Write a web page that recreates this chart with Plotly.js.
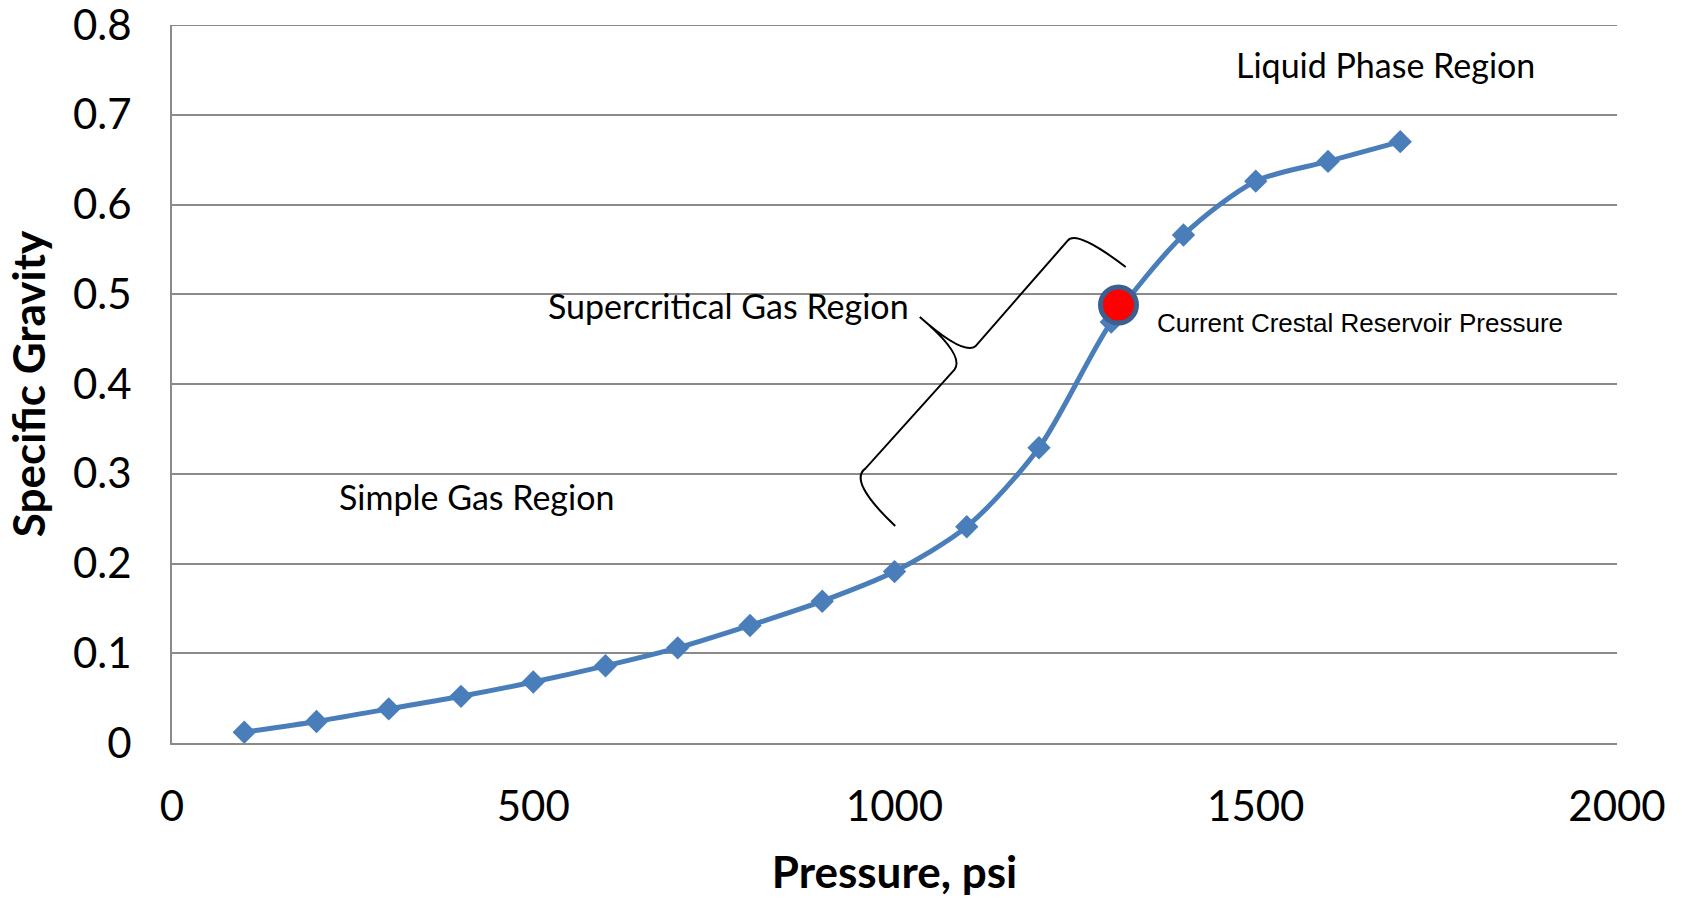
<!DOCTYPE html>
<html>
<head>
<meta charset="utf-8">
<script src="https://cdn.plot.ly/plotly-3.0.1.min.js"></script>
<style>html,body{margin:0;padding:0;background:#fff;}#chart{width:1684px;height:897px;}</style>
</head>
<body>
<div id="chart"></div>
<script>
// Data
const pressure = [100, 200, 300, 400, 500, 600, 700, 800, 900, 1000, 1100, 1200, 1300, 1400, 1500, 1600, 1700];
const specificGravity = [0.012, 0.024, 0.038, 0.052, 0.068, 0.086, 0.106, 0.131, 0.158, 0.191, 0.241, 0.329, 0.469, 0.566, 0.626, 0.648, 0.670];
const currentPressure = [1310];
const currentGravity = [0.488];
const xTicks = [0, 500, 1000, 1500, 2000];
const yTicks = [0, 0.1, 0.2, 0.3, 0.4, 0.5, 0.6, 0.7, 0.8];
const yTickText = ['0', '0.1', '0.2', '0.3', '0.4', '0.5', '0.6', '0.7', '0.8'];

const traces = [
  {
    x: pressure, y: specificGravity, type: 'scatter', mode: 'lines+markers',
    line: {color: '#4a7ebb', width: 5, shape: 'spline', smoothing: 0.8},
    marker: {symbol: 'diamond', size: 18, color: '#4a7ebb'},
    showlegend: false, hoverinfo: 'x+y'
  },
  {
    x: currentPressure, y: currentGravity, type: 'scatter', mode: 'markers',
    marker: {symbol: 'circle', size: 36, color: '#ff0000', line: {color: '#3b5f8e', width: 5}},
    showlegend: false, hoverinfo: 'x+y'
  }
];

const calib = 'Lato, "Open Sans", sans-serif';
const gridColor = '#8a8a8a';

const layout = {
  width: 1684, height: 897,
  margin: {l: 172, r: 67, t: 25, b: 154},
  paper_bgcolor: '#fff', plot_bgcolor: '#fff',
  font: {family: calib, color: '#000'},
  xaxis: {
    range: [0, 2000], tickvals: xTicks, ticks: '', showgrid: false,
    showline: true, linecolor: gridColor, linewidth: 2, zeroline: false,
    tickfont: {family: calib, size: 42, color: '#000'},
    ticklabelstandoff: 26, ticklabeloverflow: 'allow',
    title: {text: 'Pressure, psi', font: {family: calib, size: 44, color: '#000', weight: 'bold'}, standoff: 30},
    automargin: false, fixedrange: true
  },
  yaxis: {
    range: [0, 0.8], tickvals: yTicks, ticktext: yTickText, ticks: '',
    showgrid: true, gridcolor: gridColor, gridwidth: 2,
    showline: true, linecolor: gridColor, linewidth: 2, zeroline: false,
    tickfont: {family: calib, size: 42, color: '#000'},
    ticklabelstandoff: 30, ticklabeloverflow: 'allow',
    title: {text: 'Specific Gravity', font: {family: calib, size: 44, color: '#000', weight: 'bold'}, standoff: 14},
    automargin: false, fixedrange: true
  },
  shapes: [
    {
      type: 'line', xref: 'x', yref: 'y', x0: 0, x1: 2000, y0: 0.8, y1: 0.8,
      line: {color: gridColor, width: 2}, layer: 'below'
    },
    {
      type: 'path', xref: 'x', yref: 'y',
      path: 'M 1001,0.2418 Q 935,0.292 960,0.306 L 1083,0.416 Q 1098,0.432 1035,0.4747 ' +
            'Q 1095,0.432 1112,0.442 L 1240,0.560 Q 1252,0.572 1320,0.5304',
      line: {color: '#000', width: 2}, layer: 'above'
    }
  ],
  annotations: [
    {x: 1679, y: 0.756, xref: 'x', yref: 'y', text: 'Liquid Phase Region', showarrow: false,
     xanchor: 'center', yanchor: 'middle', font: {family: calib, size: 34, color: '#000'}},
    {x: 770, y: 0.488, xref: 'x', yref: 'y', text: 'Supercritical Gas Region', showarrow: false,
     xanchor: 'center', yanchor: 'middle', font: {family: calib, size: 34, color: '#000'}},
    {x: 422, y: 0.275, xref: 'x', yref: 'y', text: 'Simple Gas Region', showarrow: false,
     xanchor: 'center', yanchor: 'middle', font: {family: calib, size: 34, color: '#000'}},
    {x: 1360, y: 0.468, xref: 'x', yref: 'y', text: 'Current Crestal Reservoir Pressure', showarrow: false,
     xanchor: 'left', yanchor: 'middle', font: {family: '"Liberation Sans Narrow", "Liberation Sans", Arial, sans-serif', size: 26, color: '#000'}}
  ]
};

Plotly.newPlot('chart', traces, layout, {displayModeBar: false, staticPlot: false});
</script>
</body>
</html>
